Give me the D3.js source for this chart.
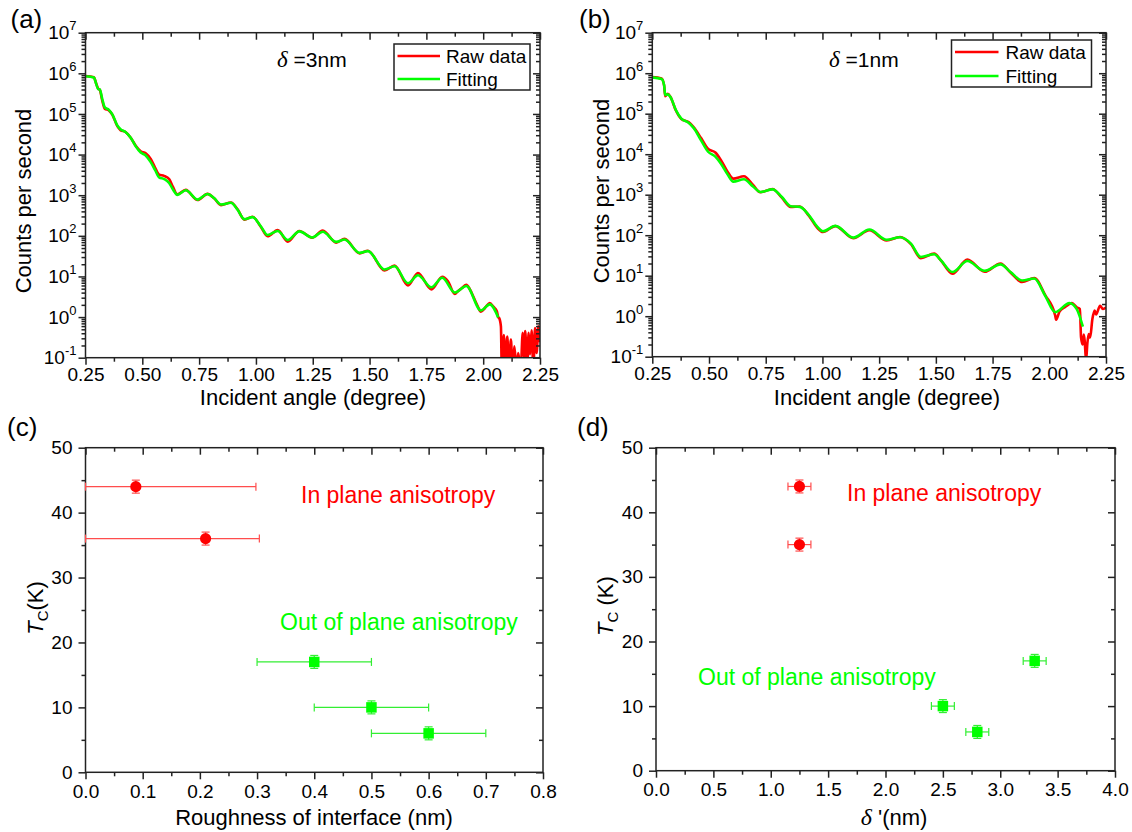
<!DOCTYPE html>
<html>
<head>
<meta charset="utf-8">
<script src="https://cdn.jsdelivr.net/npm/d3@7"></script>
<style>
  body { margin: 0; background: #fff; }
  svg { display: block; }
</style>
</head>
<body>
<svg id="fig" width="1132" height="832"></svg>
<script>
// ---------- X-ray reflectivity, sample with delta = 3 nm ----------
const fitAngleA = [0.25, 0.287, 0.297, 0.306, 0.313, 0.324, 0.335, 0.353, 0.368, 0.39, 0.404, 0.426, 0.449, 0.471, 0.493, 0.515, 0.537, 0.556, 0.574, 0.596, 0.618, 0.635, 0.654, 0.691, 0.743, 0.787, 0.816, 0.846, 0.89, 0.919, 0.949, 0.985, 1.022, 1.051, 1.096, 1.14, 1.191, 1.247, 1.294, 1.353, 1.39, 1.456, 1.493, 1.566, 1.61, 1.669, 1.713, 1.772, 1.82, 1.875, 1.926, 1.99, 2.029, 2.066];
const fitCountsA = [8.5e5, 7.9e5, 5.5e5, 4.1e5, 4.0e5, 2.3e5, 1.45e5, 1.26e5, 9.8e4, 5.2e4, 4.2e4, 3.6e4, 2.6e4, 1.6e4, 1.12e4, 9.5e3, 6.5e3, 4.2e3, 2.75e3, 2.5e3, 2.0e3, 1.38e3, 1.02e3, 1.32e3, 780, 1070, 850, 590, 650, 440, 257, 288, 170, 105, 132, 79, 129, 91, 126, 71, 81, 38, 42, 14.8, 17.8, 6.8, 10.7, 5.4, 9.3, 4.0, 5.8, 1.45, 2.05, 0.98];

const rawAngleA = [0.25, 0.287, 0.297, 0.306, 0.313, 0.324, 0.335, 0.353, 0.368, 0.39, 0.404, 0.426, 0.449, 0.471, 0.493, 0.515, 0.537, 0.556, 0.574, 0.596, 0.618, 0.635, 0.654, 0.691, 0.743, 0.787, 0.816, 0.846, 0.89, 0.919, 0.949, 0.985, 1.022, 1.051, 1.096, 1.14, 1.191, 1.247, 1.294, 1.353, 1.39, 1.456, 1.493, 1.566, 1.61, 1.669, 1.713, 1.772, 1.82, 1.845, 1.875, 1.89, 1.905, 1.926, 1.94, 1.96, 1.975, 1.99, 2.005, 2.015, 2.029, 2.045, 2.06, 2.066, 2.0706, 2.078, 2.082, 2.091, 2.097, 2.106, 2.113, 2.122, 2.129, 2.137, 2.147, 2.154, 2.165, 2.174, 2.179, 2.185, 2.193, 2.2, 2.206, 2.213, 2.221, 2.228, 2.235, 2.243, 2.25];
const rawCountsA = [8.6e5, 8.0e5, 5.6e5, 4.2e5, 3.9e5, 2.1e5, 1.35e5, 1.22e5, 9.6e4, 5.0e4, 4.0e4, 3.6e4, 2.6e4, 1.65e4, 1.2e4, 1.08e4, 7.8e3, 4.8e3, 3.2e3, 3.0e3, 2.5e3, 1.6e3, 1.05e3, 1.35e3, 760, 1080, 840, 570, 660, 450, 250, 295, 165, 98, 138, 72, 132, 90, 135, 68, 84, 37, 43, 14, 18.5, 6.0, 12.2, 4.8, 9.8, 7.6, 3.7, 4.4, 5.1, 6.2, 5.0, 2.9, 1.9, 1.35, 1.6, 1.9, 2.2, 1.8, 1.4, 1.0, 0.94, 0.59, 0.05, 0.36, 0.05, 0.33, 0.05, 0.28, 0.05, 0.19, 0.05, 0.13, 0.05, 0.41, 0.105, 0.45, 0.05, 0.41, 0.12, 0.47, 0.05, 0.54, 0.13, 0.59, 0.24];

// ---------- X-ray reflectivity, sample with delta = 1 nm ----------
const fitAngleB = [0.25, 0.291, 0.302, 0.307, 0.318, 0.33, 0.354, 0.378, 0.41, 0.433, 0.465, 0.496, 0.528, 0.552, 0.583, 0.607, 0.654, 0.694, 0.726, 0.78, 0.82, 0.86, 0.90, 0.939, 0.978, 1.002, 1.057, 1.136, 1.207, 1.283, 1.342, 1.39, 1.434, 1.493, 1.522, 1.573, 1.639, 1.715, 1.785, 1.829, 1.88, 1.934, 1.982, 2.026, 2.089, 2.121, 2.148];
const fitCountsB = [7.9e5, 7.2e5, 5.1e5, 2.9e5, 3.0e5, 2.6e5, 1.23e5, 7.6e4, 6.0e4, 4.4e4, 2.2e4, 1.15e4, 8.7e3, 5.9e3, 3.1e3, 2.1e3, 2.4e3, 1.6e3, 1.17e3, 1.35e3, 890, 520, 500, 320, 160, 125, 170, 87, 138, 77, 89, 62, 29, 34, 24, 12.3, 23, 13.2, 19, 12.3, 7.6, 8.5, 3.2, 1.26, 2.1, 1.5, 0.55];

const rawAngleB = [0.25, 0.291, 0.302, 0.307, 0.318, 0.33, 0.354, 0.378, 0.41, 0.433, 0.465, 0.496, 0.528, 0.552, 0.583, 0.607, 0.654, 0.694, 0.726, 0.78, 0.82, 0.86, 0.90, 0.939, 0.978, 1.002, 1.057, 1.136, 1.207, 1.283, 1.342, 1.39, 1.434, 1.493, 1.522, 1.573, 1.639, 1.715, 1.785, 1.829, 1.88, 1.934, 1.982, 2.026, 2.03, 2.045, 2.07, 2.1, 2.121, 2.135, 2.14, 2.147, 2.152, 2.156, 2.162, 2.168, 2.174, 2.18, 2.19, 2.2, 2.206, 2.224, 2.236, 2.25];
const rawCountsB = [8.0e5, 7.4e5, 5.0e5, 2.7e5, 3.1e5, 2.6e5, 1.2e5, 7.4e4, 6.2e4, 4.6e4, 2.5e4, 1.35e4, 1.1e4, 7.2e3, 3.6e3, 2.5e3, 2.85e3, 1.75e3, 1.15e3, 1.38e3, 860, 500, 510, 310, 150, 120, 168, 84, 132, 74, 90, 60, 27, 35, 24, 11.2, 25, 12.5, 20, 12, 7.0, 8.8, 3.3, 1.05, 0.82, 1.3, 1.7, 2.1, 1.65, 1.5, 0.3, 0.2, 0.35, 0.25, 0.08, 0.22, 0.36, 0.3, 0.85, 1.38, 1.1, 1.8, 1.5, 1.65];

// ---------- Tc versus roughness of interface ----------
const roughIn = [0.088, 0.21];
const roughInLow = [0.0, 0.0];
const roughInHigh = [0.298, 0.304];
const tcRoughIn = [44, 36];
const roughOut = [0.40, 0.50, 0.60];
const roughOutLow = [0.30, 0.40, 0.50];
const roughOutHigh = [0.50, 0.60, 0.70];
const tcRoughOut = [17, 10, 6];
const tcErrIn = [1, 1];
const tcErrOut = [1, 1, 1];

// ---------- Tc versus delta' ----------
const deltaIn = [1.25, 1.25];
const deltaInErr = [0.1, 0.1];
const tcDeltaIn = [44, 35];
const deltaOut = [2.5, 2.8, 3.3];
const deltaOutErr = [0.1, 0.1, 0.1];
const tcDeltaOut = [10, 6, 17];

// ---------- axis ticks ----------
const angleTicks = [0.25, 0.5, 0.75, 1.0, 1.25, 1.5, 1.75, 2.0, 2.25];
const angleMinor = [0.375, 0.625, 0.875, 1.125, 1.375, 1.625, 1.875, 2.125];
const decadeTicks = [0.1, 1, 10, 1e2, 1e3, 1e4, 1e5, 1e6, 1e7];
const roughTicks = [0, 0.1, 0.2, 0.3, 0.4, 0.5, 0.6, 0.7, 0.8];
const roughMinor = [0.05, 0.15, 0.25, 0.35, 0.45, 0.55, 0.65, 0.75];
const deltaTicks = [0, 0.5, 1.0, 1.5, 2.0, 2.5, 3.0, 3.5, 4.0];
const deltaMinor = [0.25, 0.75, 1.25, 1.75, 2.25, 2.75, 3.25, 3.75];
const tcTicks = [0, 10, 20, 30, 40, 50];
const tcMinor = [5, 15, 25, 35, 45];

const FONT = '"Liberation Sans", Arial, Helvetica, sans-serif';
const SERIF = '"Liberation Serif", "Times New Roman", serif';
const AXIS = '#222';
const RED = '#ff0000';
const GREEN = '#00ff00';

const svg = d3.select('#fig');

// log-scale minor ticks: 2..9 within every decade
const logMinor = [];
decadeTicks.slice(0, -1).forEach(d => { for (let m = 2; m <= 9; m++) logMinor.push(d * m); });

function panel(box) {
  const g = svg.append('g').attr('transform', `translate(${box.l},${box.t})`);
  g.w = box.r - box.l; g.h = box.b - box.t;
  return g;
}

function styleAxis(sel, withText) {
  sel.select('.domain').remove();
  sel.attr('font-family', FONT).attr('font-size', 19);
  sel.selectAll('line').attr('stroke', AXIS).attr('stroke-width', 1.5);
  sel.selectAll('text').attr('fill', '#000');
  if (!withText) sel.selectAll('text').remove();
}

function drawAxes(g, x, y, o) {
  const w = g.w, h = g.h;
  // bottom
  g.append('g').attr('transform', `translate(0,${h})`)
    .call(d3.axisBottom(x).tickValues(o.xMajor).tickSize(7).tickPadding(o.xPad).tickFormat(o.xFmt))
    .call(s => styleAxis(s, true));
  g.append('g').attr('transform', `translate(0,${h})`)
    .call(d3.axisBottom(x).tickValues(o.xMinor).tickSize(4).tickFormat(''))
    .call(s => styleAxis(s, false));
  // top (mirrored, inward)
  g.append('g').call(d3.axisTop(x).tickValues(o.xMajor).tickSize(-7).tickFormat(''))
    .call(s => styleAxis(s, false));
  g.append('g').call(d3.axisTop(x).tickValues(o.xMinor).tickSize(-4).tickFormat(''))
    .call(s => styleAxis(s, false));
  // left
  const left = g.append('g')
    .call(d3.axisLeft(y).tickValues(o.yMajor).tickSize(7).tickPadding(o.yPad || 4).tickFormat(o.yFmt || ''))
    .call(s => styleAxis(s, true));
  if (o.logLabels) {
    left.selectAll('.tick text').each(function (d) {
      const t = d3.select(this);
      t.text(null);
      t.append('tspan').text('10');
      t.append('tspan').attr('dy', -9).attr('font-size', 13).text(Math.round(Math.log10(d)));
    });
  }
  g.append('g').call(d3.axisLeft(y).tickValues(o.yMinor).tickSize(4).tickFormat(''))
    .call(s => styleAxis(s, false));
  // right (mirrored, inward)
  g.append('g').attr('transform', `translate(${w},0)`)
    .call(d3.axisRight(y).tickValues(o.yMajor).tickSize(-7).tickFormat(''))
    .call(s => styleAxis(s, false));
  g.append('g').attr('transform', `translate(${w},0)`)
    .call(d3.axisRight(y).tickValues(o.yMinor).tickSize(-4).tickFormat(''))
    .call(s => styleAxis(s, false));
  // frame
  g.append('rect').attr('width', w).attr('height', h)
    .attr('fill', 'none').attr('stroke', AXIS).attr('stroke-width', 1.5);
}

function label(x, y, txt, size, opts = {}) {
  const t = svg.append('text').attr('x', x).attr('y', y)
    .attr('font-family', opts.family || FONT).attr('font-size', size)
    .attr('fill', opts.fill || '#000').attr('text-anchor', opts.anchor || 'start');
  if (opts.rotate) t.attr('transform', `rotate(-90,${x},${y})`);
  t.text(txt);
  return t;
}

// ---------- reflectivity panels ----------
function reflectivity(box, id, fitX, fitY, rawX, rawY, deltaText, legend) {
  const g = panel(box);
  const x = d3.scaleLinear().domain([0.25, 2.25]).range([0, g.w]);
  const y = d3.scaleLog().domain([0.1, 1e7]).range([g.h, 0]);

  g.append('clipPath').attr('id', id).append('rect').attr('width', g.w).attr('height', g.h);
  const line = d3.line().x(d => x(d[0])).y(d => y(d[1])).curve(d3.curveMonotoneX);
  const plot = g.append('g').attr('clip-path', `url(#${id})`);
  plot.append('path').datum(d3.zip(rawX, rawY)).attr('d', line)
    .attr('fill', 'none').attr('stroke', RED).attr('stroke-width', 2.6).attr('stroke-linejoin', 'round');
  plot.append('path').datum(d3.zip(fitX, fitY)).attr('d', line)
    .attr('fill', 'none').attr('stroke', GREEN).attr('stroke-width', 2.6).attr('stroke-linejoin', 'round');

  drawAxes(g, x, y, {
    xMajor: angleTicks, xMinor: angleMinor, xFmt: d3.format('.2f'), xPad: 2.5,
    yMajor: decadeTicks, yMinor: logMinor, logLabels: true, yFmt: () => 'x', yPad: 2
  });

  // delta annotation
  const t = g.append('text').attr('x', deltaText.x - box.l).attr('y', deltaText.y - box.t)
    .attr('font-family', FONT).attr('font-size', 21).attr('fill', '#000');
  t.append('tspan').attr('font-family', SERIF).attr('font-style', 'italic').attr('font-size', 23).text('\u03b4');
  t.append('tspan').text(' =' + deltaText.txt);

  // legend
  const L = legend;
  const lg = svg.append('g');
  lg.append('rect').attr('x', L.x).attr('y', L.y).attr('width', L.w).attr('height', L.h)
    .attr('fill', '#fff').attr('stroke', AXIS).attr('stroke-width', 1.5);
  [[RED, 'Raw data', L.y1], [GREEN, 'Fitting', L.y2]].forEach(([c, txt, yy]) => {
    lg.append('line').attr('x1', L.x + 3.5).attr('x2', L.x + L.lineW).attr('y1', yy).attr('y2', yy)
      .attr('stroke', c).attr('stroke-width', 2.6);
    lg.append('text').attr('x', L.x + L.textX).attr('y', yy + 6.5)
      .attr('font-family', FONT).attr('font-size', 19).attr('fill', '#000').text(txt);
  });
}

// ---------- Tc scatter panels ----------
function tcPanel(box, xDomain, xTicks, xMinor, sets) {
  const g = panel(box);
  const x = d3.scaleLinear().domain(xDomain).range([0, g.w]);
  const y = d3.scaleLinear().domain([0, 50]).range([g.h, 0]);

  drawAxes(g, x, y, {
    xMajor: xTicks, xMinor: xMinor, xFmt: d3.format('.1f'), xPad: 5,
    yMajor: tcTicks, yMinor: tcMinor, yFmt: d3.format('d'), yPad: 6
  });

  sets.forEach(s => {
    const pts = s.x.map((v, i) => ({ x: v, lo: s.lo[i], hi: s.hi[i], y: s.y[i], e: s.e[i] }));
    const eb = g.append('g').attr('stroke', s.barColor).attr('stroke-width', 1.2).attr('fill', 'none');
    pts.forEach(p => {
      const cy = y(p.y);
      eb.append('line').attr('x1', x(p.lo)).attr('x2', x(p.hi)).attr('y1', cy).attr('y2', cy);
      eb.append('line').attr('x1', x(p.lo)).attr('x2', x(p.lo)).attr('y1', cy - 4).attr('y2', cy + 4);
      eb.append('line').attr('x1', x(p.hi)).attr('x2', x(p.hi)).attr('y1', cy - 4).attr('y2', cy + 4);
      const cx = x(p.x);
      eb.append('line').attr('x1', cx).attr('x2', cx).attr('y1', y(p.y - p.e)).attr('y2', y(p.y + p.e));
      eb.append('line').attr('x1', cx - 4).attr('x2', cx + 4).attr('y1', y(p.y - p.e)).attr('y2', y(p.y - p.e));
      eb.append('line').attr('x1', cx - 4).attr('x2', cx + 4).attr('y1', y(p.y + p.e)).attr('y2', y(p.y + p.e));
    });
    const sym = s.shape === 'circle' ? d3.symbolCircle : d3.symbolSquare;
    const size = s.shape === 'circle' ? Math.PI * 5.6 * 5.6 : 10.5 * 10.5;
    g.append('g').selectAll('path').data(pts).join('path')
      .attr('transform', p => `translate(${x(p.x)},${y(p.y)})`)
      .attr('d', d3.symbol(sym, size)).attr('fill', s.color);
  });
  return g;
}

// frames of the four panels
const boxA = { l: 85.5, r: 540, t: 32.7, b: 357.7 };
const boxB = { l: 652.3, r: 1106, t: 32.7, b: 356.7 };
const boxC = { l: 85.5, r: 543, t: 447.7, b: 772.3 };
const boxD = { l: 656, r: 1115, t: 447.7, b: 770.7 };

reflectivity(boxA, 'clipA', fitAngleA, fitCountsA, rawAngleA, rawCountsA,
  { x: 277, y: 67, txt: '3nm' },
  { x: 394, y: 44, w: 136, h: 46, y1: 56, y2: 79, lineW: 46, textX: 52 });
reflectivity(boxB, 'clipB', fitAngleB, fitCountsB, rawAngleB, rawCountsB,
  { x: 829, y: 67, txt: '1nm' },
  { x: 951.5, y: 40, w: 140, h: 47, y1: 52, y2: 76, lineW: 47, textX: 54 });

tcPanel(boxC, [0, 0.8], roughTicks, roughMinor, [
  { x: roughIn, lo: roughInLow, hi: roughInHigh, y: tcRoughIn, e: tcErrIn, color: RED, barColor: '#ff4d4d', shape: 'circle' },
  { x: roughOut, lo: roughOutLow, hi: roughOutHigh, y: tcRoughOut, e: tcErrOut, color: GREEN, barColor: '#33ee33', shape: 'square' }
]);
tcPanel(boxD, [0, 4], deltaTicks, deltaMinor, [
  { x: deltaIn, lo: deltaIn.map((v, i) => v - deltaInErr[i]), hi: deltaIn.map((v, i) => v + deltaInErr[i]), y: tcDeltaIn, e: tcErrIn, color: RED, barColor: '#ff4d4d', shape: 'circle' },
  { x: deltaOut, lo: deltaOut.map((v, i) => v - deltaOutErr[i]), hi: deltaOut.map((v, i) => v + deltaOutErr[i]), y: tcDeltaOut, e: tcErrOut, color: GREEN, barColor: '#33ee33', shape: 'square' }
]);

// annotations inside the Tc panels
label(301, 503, 'In plane anisotropy', 23, { fill: RED });
label(280, 630, 'Out of plane anisotropy', 23, { fill: GREEN });
label(847, 501, 'In plane anisotropy', 23, { fill: RED });
label(698, 685, 'Out of plane anisotropy', 23, { fill: GREEN });

// axis titles
label(30.5, 201, 'Counts per second', 22, { anchor: 'middle', rotate: true });
label(608.5, 191, 'Counts per second', 22, { anchor: 'middle', rotate: true });
label(313, 405, 'Incident angle (degree)', 22, { anchor: 'middle' });
label(887, 405, 'Incident angle (degree)', 22, { anchor: 'middle' });
label(314, 825, 'Roughness of interface (nm)', 22, { anchor: 'middle' });

// T_C(K) titles
function tcTitle(x, y, gap) {
  const t = svg.append('text').attr('x', x).attr('y', y)
    .attr('font-family', FONT).attr('font-size', 22).attr('text-anchor', 'middle')
    .attr('transform', `rotate(-90,${x},${y})`);
  t.append('tspan').attr('font-style', 'italic').text('T');
  t.append('tspan').attr('font-size', 15).attr('dy', 5).text('C');
  t.append('tspan').attr('dy', -5).text(gap + '(K)');
}
tcTitle(43, 608, '');
tcTitle(613, 606, ' ');

// delta' title
{
  const t = svg.append('text').attr('x', 894).attr('y', 825)
    .attr('font-family', FONT).attr('font-size', 22).attr('text-anchor', 'middle');
  t.append('tspan').attr('font-family', SERIF).attr('font-style', 'italic').attr('font-size', 24).text('\u03b4');
  t.append('tspan').text(" '(nm)");
}

// panel letters
label(10.5, 27.5, '(a)', 26);
label(579, 27.5, '(b)', 26);
label(7, 436, '(c)', 26);
label(577, 436, '(d)', 26);
</script>
</body>
</html>
